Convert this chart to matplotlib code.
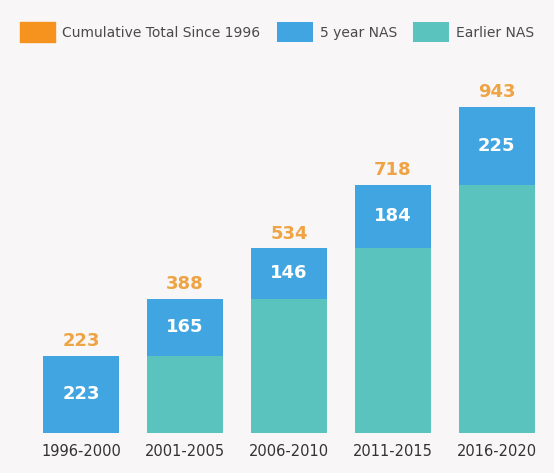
import matplotlib
matplotlib.use("Agg")
import matplotlib.pyplot as plt

# NAS counts per five-year period
periods = ["1996-2000", "2001-2005", "2006-2010", "2011-2015", "2016-2020"]
five_year_nas = [223, 165, 146, 184, 225]
earlier_nas = [0, 223, 388, 534, 718]
cumulative_total = [223, 388, 534, 718, 943]

c_orange = "#f5931e"
c_orange_txt = "#eea444"
c_blue = "#41a5e1"
c_teal = "#5ac3be"
bg = "#f8f6f6"

plt.rcParams["font.family"] = ["DejaVu Sans"]

fig = plt.figure(figsize=(5.54, 4.73), dpi=100, facecolor=bg)
ax = fig.add_axes([0, 40 / 473, 1, 346 / 473], facecolor=bg)

x = list(range(len(periods)))
w = 0.73

b_earlier = ax.bar(x, earlier_nas, width=w, color=c_teal, label="Earlier NAS")
b_five = ax.bar(x, five_year_nas, width=w, bottom=earlier_nas, color=c_blue,
                label="5 year NAS")

# values inside the blue segments and totals above the bars
for i in x:
    ax.text(i, earlier_nas[i] + five_year_nas[i] / 2, str(five_year_nas[i]),
            ha="center", va="center", color="white", fontsize=13,
            fontweight="bold")
    ax.annotate(str(cumulative_total[i]), (i, cumulative_total[i]),
                xytext=(0, 4), textcoords="offset points", ha="center",
                va="bottom", color=c_orange_txt, fontsize=13,
                fontweight="bold")

ax.set_xlim(-0.78, 4.55)
ax.set_ylim(0, 1000)
ax.set_xticks(x)
ax.set_xticklabels(periods, fontsize=10.5, color="#333333")
ax.tick_params(axis="x", length=0, pad=8)
ax.set_yticks([])
for s in ax.spines.values():
    s.set_visible(False)

# legend across the top
cum_patch = plt.Rectangle((0, 0), 1, 1, color=c_orange)
leg = fig.legend([cum_patch, b_five, b_earlier],
                 ["Cumulative Total Since 1996", "5 year NAS", "Earlier NAS"],
                 loc="upper left", bbox_to_anchor=(20 / 554, 1 - 22 / 473),
                 ncol=3, frameon=False, fontsize=10, handlelength=2.55,
                 handleheight=1.85, handletextpad=0.5, columnspacing=1.2,
                 borderaxespad=0, borderpad=0)
for t in leg.get_texts():
    t.set_color("#4a4a4a")

fig.savefig("out.png", dpi=100, facecolor=bg)
